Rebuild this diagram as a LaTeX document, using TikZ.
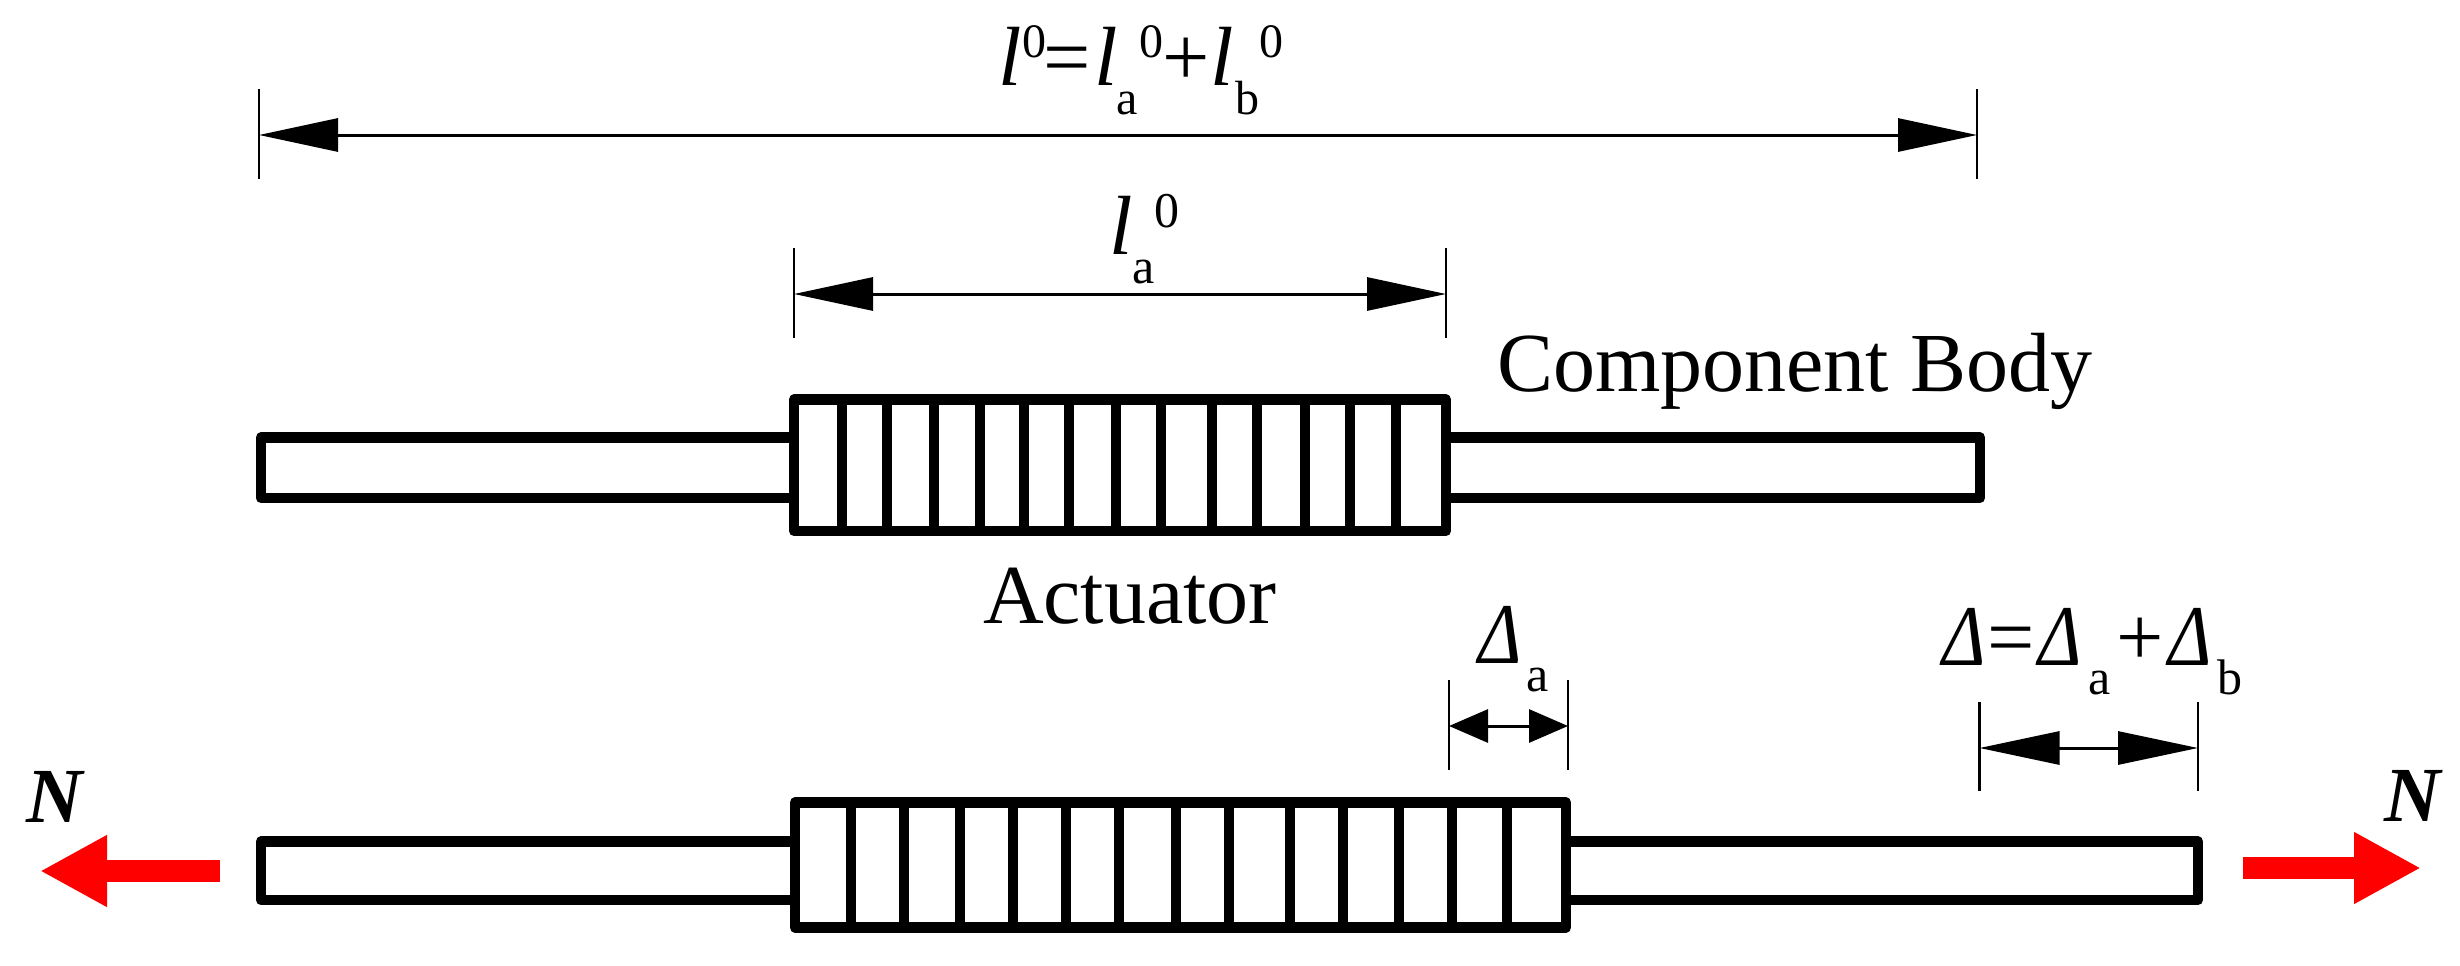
\documentclass[tikz,border=0pt]{standalone}
\usepackage{graphicx}
\usepackage{fontspec}
\setmainfont{Liberation Serif}
\usetikzlibrary{arrows.meta}
\newcommand{\smalltxt}[3]{{\fontsize{#1}{#1}\selectfont\raisebox{#2}{#3}}}
\newcommand{\ital}[1]{{\itshape #1}}
\newcommand{\deltait}{\scalebox{.88}[1.03]{\itshape Δ}}
\tikzset{
  x=1pt,y=-1pt,
  txt/.style={inner sep=0pt,outer sep=0pt,anchor=base west,font=\fontsize{84}{84}\selectfont},
  forcelab/.style={inner sep=0pt,outer sep=0pt,anchor=base west,font=\fontsize{78}{78}\selectfont\bfseries\itshape},
  body/.style={draw=black,fill=white,line width=10.4pt,line join=round},
  rib/.style={draw=black,line width=10pt},
  dimline/.style={draw=black,line width=3pt,{Triangle[length=#1,width=33pt]}-{Triangle[length=#1,width=33pt]}},
  tick/.style={draw=black,line width=2.2pt},
  force/.style={draw=red,line width=22pt,-{Triangle[length=67pt,width=67pt]}}
}
\begin{document}
\begin{tikzpicture}
\useasboundingbox (0,0) rectangle (2460,966);
\fill[white] (0,0) rectangle (2460,966);

% upper member
\draw[body] (261,437.5) rectangle (1980,498);
\draw[body] (794,399.5) rectangle (1446,531);
\foreach \px in {841.7,887,934,979.5,1024,1069,1116,1161,1212,1257,1304.5,1350,1396}
  \draw[rib] (\px,399.5) -- (\px,531);

% lower member
\draw[body] (261,841.5) rectangle (2198,900);
\draw[body] (795,802.5) rectangle (1566,927.5);
\foreach \px in {851,904,960,1013,1066,1119,1176,1229,1290,1343,1399,1452,1507}
  \draw[rib] (\px,802.5) -- (\px,927.5);

% dimension l0
\coordinate (A1) at (259,135);
\coordinate (A2) at (1977,135);
\draw[tick] (259,89) -- (259,179);
\draw[tick] (1977,89) -- (1977,179);
\draw[dimline=79pt] (A1) -- (A2);

% dimension la0
\coordinate (B1) at (794,294);
\coordinate (B2) at (1446,294);
\draw[tick] (794,248) -- (794,338);
\draw[tick] (1446,248) -- (1446,338);
\draw[dimline=79pt] (B1) -- (B2);

% dimension Delta a
\coordinate (C1) at (1449,726);
\coordinate (C2) at (1568,726);
\draw[tick] (1449,680) -- (1449,770);
\draw[tick] (1568,680) -- (1568,770);
\draw[dimline=39pt] (C1) -- (C2);

% dimension Delta
\coordinate (D1) at (1979.5,748);
\coordinate (D2) at (2198,748);
\draw[tick] (1979.5,702) -- (1979.5,791);
\draw[tick] (2198,702) -- (2198,791);
\draw[dimline=80pt] (D1) -- (D2);

% forces
\coordinate (F1s) at (219.5,871);
\coordinate (F1e) at (40,871);
\coordinate (F2s) at (2243,868);
\coordinate (F2e) at (2421,868);
\draw[force] (F1s) -- (F1e);
\draw[force] (F2s) -- (F2e);

% labels
\node[forcelab] (N1) at (27,822) {N};
\node[forcelab] (N2) at (2384,821) {N};
\node[txt] (body) at (1497,391) {Component Body};
\node[txt] (act) at (983,623) {Actuator};
\node[txt] (lab1) at (998,85) {\ital{l}\kern0.7pt\smalltxt{48}{28pt}{0}\kern-3pt=\kern3.6pt\ital{l}\kern-1.3pt\smalltxt{48}{-29pt}{a}\kern1.7pt\smalltxt{48}{28pt}{0}\kern-1pt+\kern0.6pt\ital{l}\kern1.7pt\smalltxt{48}{-29pt}{b}\smalltxt{48}{28pt}{0}};
\node[txt] (lab2) at (1109,254) {\ital{l}\smalltxt{50}{-29pt}{a}\smalltxt{50}{27pt}{0}};
\node[txt] (lab3) at (1478,663) {\deltait\kern5.5pt\smalltxt{50}{-28pt}{a}};
\node[txt] (lab4) at (1942,665) {\deltait\kern2pt=\kern3.5pt\deltait\kern7pt\smalltxt{50}{-29pt}{a}\kern6pt+\kern4pt\deltait\kern5.5pt\smalltxt{50}{-29pt}{b}};
\end{tikzpicture}
\end{document}
